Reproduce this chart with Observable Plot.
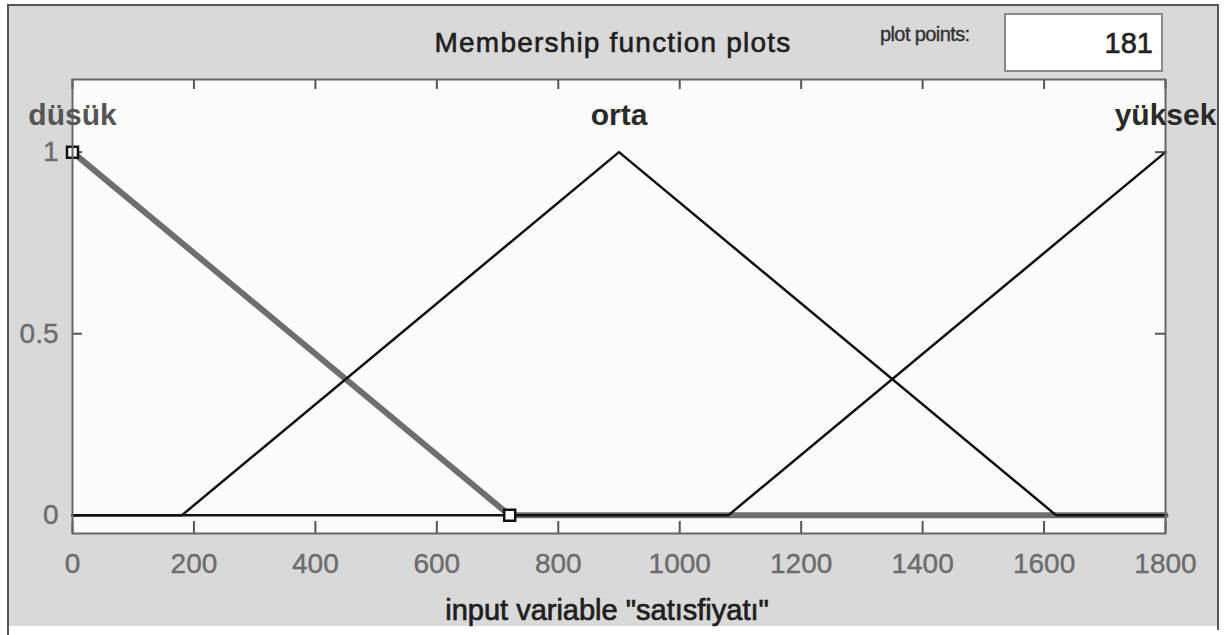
<!DOCTYPE html>
<html>
<head>
<meta charset="utf-8">
<script src="https://cdn.jsdelivr.net/npm/d3@7"></script>
<script src="https://cdn.jsdelivr.net/npm/@observablehq/plot@0.6"></script>
<style>
  html, body { margin: 0; padding: 0; background: #ffffff; }
  #wrap { position: relative; width: 1226px; height: 635px; overflow: hidden; font-family: "Liberation Sans", Arial, sans-serif; }
  #panel { position: absolute; left: 7px; top: 4px; width: 1208px; height: 620px; background: #d9d9d9;
           border-left: 2px solid #555; border-top: 2px solid #555; border-right: 2px solid #555; }
  #lborder { position: absolute; left: 7px; top: 4px; width: 2px; height: 631px; background: #555; }
  #rborder { position: absolute; left: 1217px; top: 4px; width: 2px; height: 626px; background: #555; }
  #title { position: absolute; left: 0; width: 1226px; top: 28px; text-align: center; font-size: 28px; letter-spacing: 1.2px; color: #1e1e1e; line-height: 30px; -webkit-text-stroke: 0.6px #1e1e1e; }
  #pp { position: absolute; left: 880px; top: 23px; font-size: 20px; letter-spacing: -0.6px; color: #333; line-height: 22px; -webkit-text-stroke: 0.4px #333; }
  #box { position: absolute; left: 1004px; top: 13px; width: 155px; height: 55px; background: #fff; border: 2px solid #8a8a8a; box-sizing: content-box; }
  #boxval { position: absolute; right: 8px; top: 12px; font-size: 29px; color: #222; line-height: 32px; -webkit-text-stroke: 0.6px #222; }
  #chart { position: absolute; left: 0; top: 0; }
</style>
</head>
<body>
<div id="wrap">
  <div id="panel"></div>
  <div id="lborder"></div>
  <div id="rborder"></div>
  <div id="title">Membership function plots</div>
  <div id="pp">plot points:</div>
  <div id="box"><div id="boxval">181</div></div>
  <div id="chart"></div>
</div>
<script>
// ---- data ----
const xTicks = [0, 200, 400, 600, 800, 1000, 1200, 1400, 1600, 1800];
const yTicks = [0, 0.5, 1];
const mfNames = ["düsük", "orta", "yüksek"];
const mfPeaks = [0, 900, 1800];
const mfLabelLevel = [1.1, 1.1, 1.1];
const dusukX = [0, 720, 1800];
const dusukY = [1, 0, 0];
const ortaX = [0, 180, 900, 1620, 1800];
const ortaY = [0, 0, 1, 0, 0];
const yuksekX = [0, 1080, 1800];
const yuksekY = [0, 0, 1];
const markerX = [0, 720];
const markerY = [1, 0];
const xLabel = 'input variable "satısfiyatı"';

const W = 1226, H = 635;
const mL = 72, mR = 61, mT = 79, mB = 102;
const plotW = W - mL - mR, plotH = H - mT - mB;

const toPts = (xs, ys) => xs.map((x, i) => ({x, y: ys[i]}));
const dusuk = toPts(dusukX, dusukY);
const orta = toPts(ortaX, ortaY);
const yuksek = toPts(yuksekX, yuksekY);
const markers = toPts(markerX, markerY);
const labels = mfNames.map((n, i) => ({name: n, x: mfPeaks[i], y: mfLabelLevel[i], sel: i === 0}));

const chart = Plot.plot({
  width: W,
  height: H,
  marginLeft: mL, marginRight: mR, marginTop: mT, marginBottom: mB,
  style: {background: "transparent", fontFamily: "'Liberation Sans', Arial, sans-serif", overflow: "visible"},
  x: {domain: [0, 1800]},
  y: {domain: [-0.05, 1.2]},
  marks: [
    Plot.frame({fill: "#fbfbfb", stroke: "none"}),
    Plot.axisX({ticks: xTicks, tickSize: 0, tickPadding: 20, fontSize: 28, fill: "#6c6c6c",
      tickFormat: d => String(d), label: xLabel, labelAnchor: "center", labelArrow: "none", labelOffset: 86}),
    Plot.axisY({ticks: yTicks, tickSize: 0, tickPadding: 14, fontSize: 28, fill: "#6c6c6c",
      tickFormat: d => String(d), label: null}),
    Plot.tickX(xTicks, {x: d => d, insetTop: plotH - 12, stroke: "#555", strokeWidth: 2}),
    Plot.tickX(xTicks, {x: d => d, insetBottom: plotH - 10, stroke: "#555", strokeWidth: 2}),
    Plot.tickY(yTicks, {y: d => d, insetRight: plotW - 10, stroke: "#555", strokeWidth: 2}),
    Plot.tickY(yTicks, {y: d => d, insetLeft: plotW - 10, stroke: "#555", strokeWidth: 2}),
    Plot.line(dusuk, {x: "x", y: "y", stroke: "#6e6e6e", strokeWidth: 6}),
    Plot.line(orta, {x: "x", y: "y", stroke: "#111", strokeWidth: 2.5}),
    Plot.line(yuksek, {x: "x", y: "y", stroke: "#111", strokeWidth: 2.5}),
    Plot.dot(markers, {x: "x", y: "y", symbol: "square", r: 6.2, stroke: "#111", strokeWidth: 2.5, fill: "#fff"}),
    Plot.frame({stroke: "#666", strokeWidth: 2}),
    Plot.text(labels, {x: "x", y: "y", text: "name", fontSize: 30, fontWeight: "bold",
      fill: d => d.sel ? "#555" : "#2a2a2a"})
  ]
});
// x-axis label styling
chart.querySelectorAll("g[aria-label='x-axis label'] text").forEach(t => {
  t.setAttribute("font-size", "29"); t.setAttribute("fill", "#1e1e1e"); t.style.fontSize = "29px";
  t.setAttribute("dx", "-12");
  t.setAttribute("stroke", "#1e1e1e"); t.setAttribute("stroke-width", "0.7");
});
// slightly heavier glyphs, like the blurred original
chart.querySelectorAll("g[aria-label='x-axis tick label'] text, g[aria-label='y-axis tick label'] text").forEach(t => {
  t.setAttribute("stroke", "#6c6c6c"); t.setAttribute("stroke-width", "0.4");
});
document.getElementById("chart").appendChild(chart);
</script>
</body>
</html>
